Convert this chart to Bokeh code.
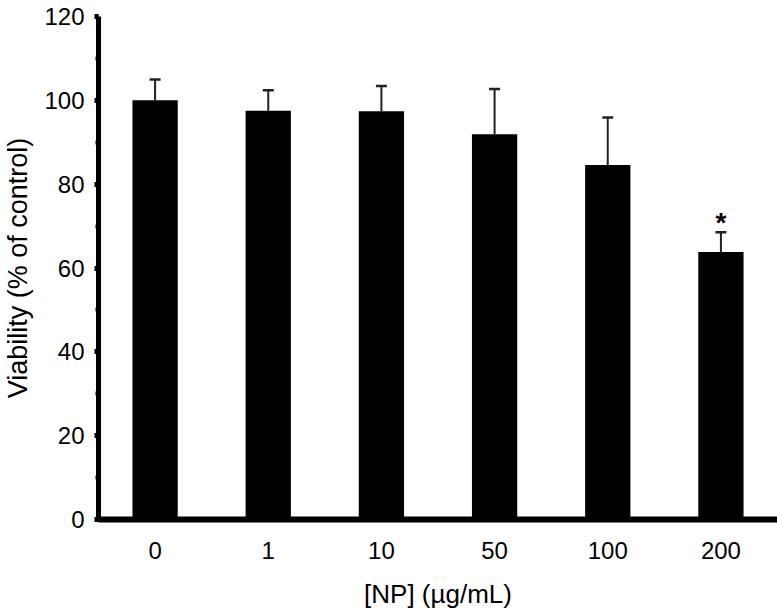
from bokeh.plotting import figure
from bokeh.models import ColumnDataSource, Whisker, FactorRange, Range1d, SingleIntervalTicker, TeeHead
from bokeh.core.properties import value
from bokeh.embed import file_html
from bokeh.resources import INLINE

# Data
concentrations = ["0", "1", "10", "50", "100", "200"]
viability = [100.0, 97.5, 97.4, 91.9, 84.6, 63.8]
error_upper = [5.0, 4.9, 6.0, 10.8, 11.3, 4.7]
significance = ["", "", "", "", "", "*"]

tops = [v + e for v, e in zip(viability, error_upper)]

src = ColumnDataSource(dict(x=concentrations, v=viability, top=tops, sig=significance))

FONT = "Liberation Sans"

p = figure(
    x_range=FactorRange(*concentrations, range_padding=0),
    y_range=Range1d(0, 120),
    width=777, height=611,
    min_border_left=98, min_border_right=0, min_border_top=16, min_border_bottom=91,
    output_backend="svg", toolbar_location=None,
)

p.vbar(x="x", top="v", width=0.4, source=src, fill_color="black", line_color=None)

w = Whisker(base="x", upper="top", lower="v", source=src,
            line_color="#222222", line_width=2,
            upper_head=TeeHead(size=11, line_color="#222222", line_width=2.5),
            lower_head=None)
p.add_layout(w)

p.text(x="x", y="top", text="sig", source=src, text_align="center", text_baseline="alphabetic",
       text_font=value(FONT), text_font_size="28px", text_font_style="bold",
       text_color="black", y_offset=-10)

p.xgrid.visible = False
p.ygrid.visible = False
p.outline_line_color = None
p.background_fill_color = "white"
p.border_fill_color = "white"

# Y axis
p.yaxis.ticker = SingleIntervalTicker(interval=20, num_minor_ticks=2)
p.yaxis.axis_line_width = 5
p.yaxis.axis_line_color = "black"
p.yaxis.major_tick_line_width = 5
p.yaxis.major_tick_out = 4
p.yaxis.major_tick_in = 0
p.yaxis.minor_tick_line_width = 4
p.yaxis.minor_tick_out = 3
p.yaxis.minor_tick_in = 0
p.yaxis.major_label_text_font = FONT
p.yaxis.major_label_text_font_size = "24px"
p.yaxis.major_label_text_color = "black"
p.yaxis.major_label_standoff = 10
p.yaxis.axis_label = "Viability (% of control)"
p.yaxis.axis_label_text_font = FONT
p.yaxis.axis_label_text_font_size = "27px"
p.yaxis.axis_label_text_font_style = "normal"
p.yaxis.axis_label_text_color = "black"
p.yaxis.axis_label_standoff = 8

# X axis
p.xaxis.axis_line_width = 6
p.xaxis.axis_line_color = "black"
p.xaxis.major_tick_line_color = None
p.xaxis.minor_tick_line_color = None
p.xaxis.major_label_text_font = FONT
p.xaxis.major_label_text_font_size = "24px"
p.xaxis.major_label_text_color = "black"
p.xaxis.major_label_standoff = 16
p.xaxis.axis_label = "[NP] (µg/mL)"
p.xaxis.axis_label_text_font = FONT
p.xaxis.axis_label_text_font_size = "26px"
p.xaxis.axis_label_text_font_style = "normal"
p.xaxis.axis_label_text_color = "black"
p.xaxis.axis_label_standoff = 17

open("out.html", "w").write(file_html(p, INLINE))
